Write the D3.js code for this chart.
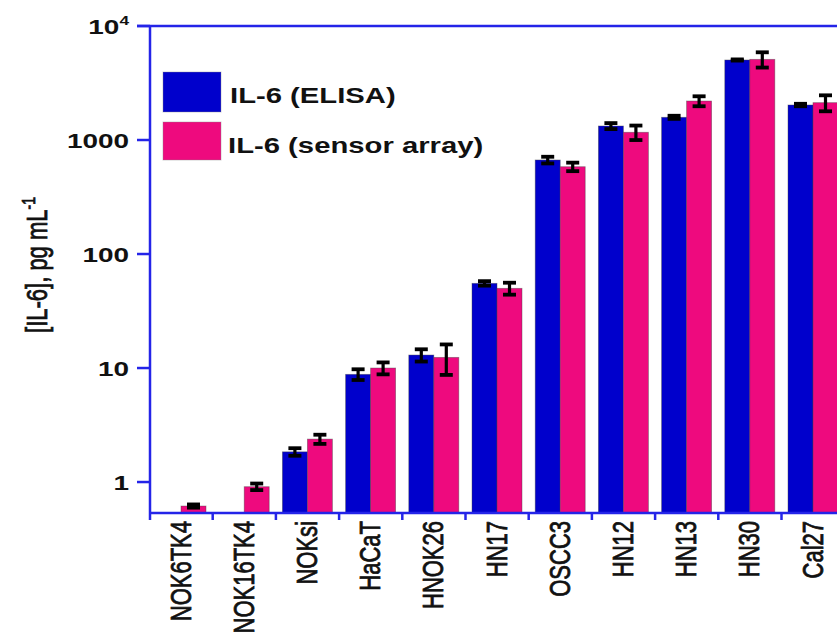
<!DOCTYPE html>
<html>
<head>
<meta charset="utf-8">
<script src="https://cdn.jsdelivr.net/npm/d3@7"></script>
<style>
  body { margin: 0; background: #fff; }
  text { font-family: 'Liberation Sans', Arial, sans-serif; fill: #111; }
  .heavy { stroke: #111; stroke-width: 0.6px; }
</style>
</head>
<body>
<div id="chart"></div>
<script>
// values (pg/mL, log axis)
const categories = ['NOK6TK4', 'NOK16TK4', 'NOKsi', 'HaCaT', 'HNOK26', 'HN17', 'OSCC3', 'HN12', 'HN13', 'HN30', 'Cal27']
const seriesNames = ['IL-6 (ELISA)', 'IL-6 (sensor array)']
const elisa = [null, null, 1.84, 8.8, 13.0, 55.3, 668, 1327, 1582, 5033, 2028]
const elisaErr = [null, null, 0.14, 0.95, 1.6, 2.5, 45, 80, 50, 60, 50]
const sensor = [0.616, 0.91, 2.38, 10.0, 12.4, 50.0, 583, 1169, 2198, 5100, 2126]
const sensorErr = [0.02, 0.06, 0.22, 1.2, 3.7, 6, 50, 170, 220, 780, 340]
const yTicks = [1, 10, 100, 1000, 10000]

;(function() {
  let W = 837
  let H = 639
  let stretch = 1.33 // the source picture is widened, text looks wide

  let colors = ['#0000cc', '#ee0a7e']
  let axisColor = '#2424e8'

  let svg = d3.select('#chart')
    .append('svg')
    .attr('width', W)
    .attr('height', H)

  let y = d3.scaleLog()
    .domain([0.535, 10000])
    .range([513, 26])

  let x = d3.scaleBand()
    .domain(categories)
    .range([149.5, 149.5 + categories.length * 63.2])

  let xSub = d3.scaleBand()
    .domain(seriesNames)
    .range([6.5, x.bandwidth() - 6.7])

  let rows = categories.map((c, i) => ({
    cat: c,
    vals: [
      { s: seriesNames[0], v: elisa[i], e: elisaErr[i], c: colors[0] },
      { s: seriesNames[1], v: sensor[i], e: sensorErr[i], c: colors[1] }
    ].filter(d => d.v != null)
  }))

  // bars
  let groups = svg.append('g')
    .selectAll('.grp')
    .data(rows)
    .enter()
    .append('g')
    .attr('class', 'grp')
    .attr('transform', d => `translate(${x(d.cat)},0)`)

  groups.selectAll('rect')
    .data(d => d.vals)
    .enter()
    .append('rect')
    .attr('x', d => xSub(d.s))
    .attr('width', xSub.bandwidth())
    .attr('y', d => y(d.v))
    .attr('height', d => y.range()[0] - y(d.v))
    .attr('fill', d => d.c)
    .attr('stroke', '#444')
    .attr('stroke-opacity', 0.5)
    .attr('stroke-width', 0.8)

  // error bars
  let eb = groups.selectAll('.err')
    .data(d => d.vals)
    .enter()
    .append('g')
    .attr('class', 'err')
    .attr('transform', d => `translate(${xSub(d.s) + xSub.bandwidth() / 2},0)`)

  eb.append('line')
    .attr('y1', d => y(d.v + d.e))
    .attr('y2', d => y(d.v - d.e))
    .attr('stroke', '#000')
    .attr('stroke-width', 3.2)

  eb.selectAll('.cap')
    .data(d => [d.v + d.e, d.v - d.e])
    .enter()
    .append('line')
    .attr('class', 'cap')
    .attr('x1', -6.5)
    .attr('x2', 6.5)
    .attr('y1', d => y(d))
    .attr('y2', d => y(d))
    .attr('stroke', '#000')
    .attr('stroke-width', 3.8)

  // axes
  let axes = svg.append('g')
    .attr('stroke', axisColor)
    .attr('stroke-width', 2.5)
    .attr('fill', 'none')

  // top frame line (starts at the 10^4 tick)
  axes.append('line')
    .attr('x1', 137).attr('x2', W)
    .attr('y1', y(10000)).attr('y2', y(10000))

  // left axis
  axes.append('line')
    .attr('x1', 150).attr('x2', 150)
    .attr('y1', y(10000)).attr('y2', 520)

  // bottom axis
  axes.append('line')
    .attr('x1', 150).attr('x2', W)
    .attr('y1', y.range()[0]).attr('y2', y.range()[0])

  axes.selectAll('.ytick')
    .data(yTicks)
    .enter()
    .append('line')
    .attr('x1', 137).attr('x2', 150)
    .attr('y1', d => y(d)).attr('y2', d => y(d))

  axes.selectAll('.xtick')
    .data(categories.slice(1))
    .enter()
    .append('line')
    .attr('x1', d => x(d)).attr('x2', d => x(d))
    .attr('y1', y.range()[0]).attr('y2', 520)

  // y tick labels
  let yl = svg.append('g')
    .selectAll('.ylab')
    .data(yTicks)
    .enter()
    .append('text')
    .attr('transform', d => `translate(129,${y(d)}) scale(${stretch},1)`)
    .attr('text-anchor', 'end')
    .attr('dy', '0.36em')
    .style('font-size', '21px')
    .style('font-weight', 'bold')

  yl.filter(d => d !== 10000).text(d => d)
  let top = yl.filter(d => d === 10000)
  top.append('tspan').text('10')
  top.append('tspan').text('4')
    .attr('dy', '-9')
    .style('font-size', '13px')

  // x tick labels
  svg.append('g')
    .selectAll('.xlab')
    .data(categories)
    .enter()
    .append('text')
    .attr('class', 'heavy')
    .attr('transform', d => `translate(${x(d) + x.bandwidth() / 2 + 9.5},521) scale(${stretch},1) rotate(-90)`)
    .attr('text-anchor', 'end')
    .style('font-size', '22px')
    .text(d => d)

  // y title
  let title = svg.append('text')
    .attr('class', 'heavy')
    .attr('transform', `translate(47,265) scale(${stretch},1) rotate(-90)`)
    .attr('text-anchor', 'middle')
    .style('font-size', '22px')
  title.append('tspan').text('[IL-6], pg mL')
  title.append('tspan').text('-1')
    .attr('dy', '-9')
    .style('font-size', '14px')

  // legend
  let legend = svg.append('g')
    .selectAll('.leg')
    .data(seriesNames)
    .enter()
    .append('g')
    .attr('transform', (d, i) => `translate(163,${72 + i * 50})`)

  legend.append('rect')
    .attr('width', 58)
    .attr('height', (d, i) => i === 0 ? 40 : 38)
    .attr('fill', (d, i) => colors[i])
    .attr('stroke', '#888')
    .attr('stroke-opacity', 0.4)

  legend.append('text')
    .attr('transform', (d, i) => `translate(${i === 0 ? 67 : 65},31) scale(${stretch},1)`)
    .style('font-size', '22px')
    .style('font-weight', 'bold')
    .text(d => d)
})()
</script>
</body>
</html>
